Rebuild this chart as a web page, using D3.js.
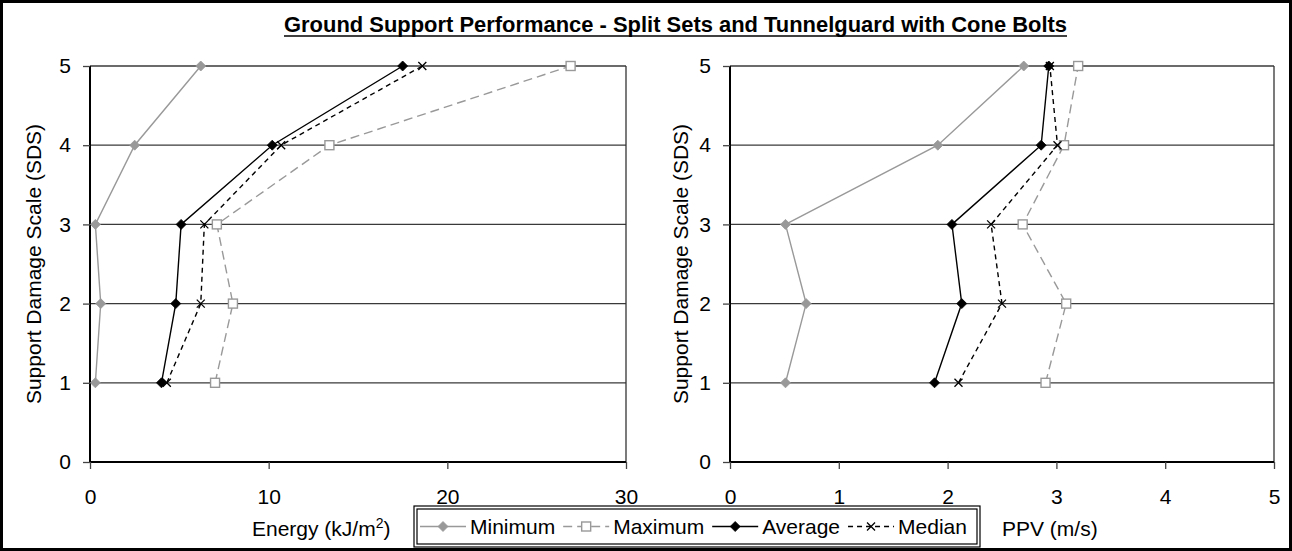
<!DOCTYPE html>
<html>
<head>
<meta charset="utf-8">
<script src="https://cdn.jsdelivr.net/npm/d3@7"></script>
<style>
  html, body { margin: 0; padding: 0; background: #fff; }
  svg { display: block; font-family: "Liberation Sans", Arial, sans-serif; }
</style>
</head>
<body>
<svg id="chart" width="1292" height="551"></svg>
<script>
// Support damage scale levels (y values shared by every series)
const sds = [1, 2, 3, 4, 5];
const sdsTicks = [0, 1, 2, 3, 4, 5];

// Energy (kJ/m2) per SDS level
const energyMin = [0.3, 0.6, 0.3, 2.5, 6.2];
const energyMax = [7.0, 8.0, 7.1, 13.4, 26.9];
const energyAvg = [4.0, 4.8, 5.1, 10.2, 17.5];
const energyMed = [4.3, 6.2, 6.4, 10.7, 18.6];
const energyTicks = [0, 10, 20, 30];

// PPV (m/s) per SDS level
const ppvMin = [0.51, 0.70, 0.51, 1.91, 2.70];
const ppvMax = [2.90, 3.09, 2.69, 3.07, 3.20];
const ppvAvg = [1.88, 2.13, 2.04, 2.86, 2.93];
const ppvMed = [2.10, 2.50, 2.40, 3.01, 2.94];
const ppvTicks = [0, 1, 2, 3, 4, 5];

const seriesNames = ["Minimum", "Maximum", "Average", "Median"];
const titleText = "Ground Support Performance - Split Sets and Tunnelguard with Cone Bolts";

const GREY = "#999999";
const styles = {
  Minimum: { stroke: GREY, dash: null, marker: "diamond", fill: GREY, mstroke: GREY },
  Maximum: { stroke: GREY, dash: "9,5", marker: "square", fill: "#fff", mstroke: GREY },
  Average: { stroke: "#000", dash: null, marker: "diamond", fill: "#000", mstroke: "#000" },
  Median:  { stroke: "#000", dash: "5,4", marker: "cross", fill: "none", mstroke: "#000" }
};

const svg = d3.select("#chart");
const W = 1292, H = 551;
const FS = 21;

// outer frame
svg.append("rect").attr("x", 1.5).attr("y", 1.5).attr("width", W - 3).attr("height", H - 3)
  .attr("fill", "#fff").attr("stroke", "#000").attr("stroke-width", 3);

// title, bold and underlined
const title = svg.append("text").attr("x", 284).attr("y", 32)
  .attr("font-size", 21.5).attr("font-weight", "bold")
  .attr("textLength", 783).attr("lengthAdjust", "spacingAndGlyphs").text(titleText);
const tb = title.node().getBBox();
svg.append("line").attr("x1", tb.x).attr("x2", tb.x + tb.width)
  .attr("y1", 36).attr("y2", 36).attr("stroke", "#000").attr("stroke-width", 1.5);

function drawMarker(g, type, x, y, st) {
  if (type === "diamond") {
    g.append("path").attr("d", `M${x},${y - 5}L${x + 5},${y}L${x},${y + 5}L${x - 5},${y}Z`)
      .attr("fill", st.fill).attr("stroke", st.mstroke).attr("stroke-width", 0.8);
  } else if (type === "square") {
    g.append("rect").attr("x", x - 4.5).attr("y", y - 4.5).attr("width", 9).attr("height", 9)
      .attr("fill", st.fill).attr("stroke", st.mstroke).attr("stroke-width", 1.4);
  } else {
    g.append("path").attr("d", `M${x - 4},${y - 4}L${x + 4},${y + 4}M${x - 4},${y + 4}L${x + 4},${y - 4}`)
      .attr("stroke", st.mstroke).attr("stroke-width", 1.3).attr("fill", "none");
  }
}

function panel(opts) {
  const { left, right, top, bottom, domain, ticks, series, yLabelX, xLabel, xLabelX } = opts;
  const x = d3.scaleLinear().domain(domain).range([left, right]);
  const y = d3.scaleLinear().domain([0, 5]).range([bottom, top]);
  const g = svg.append("g");

  // horizontal gridlines
  g.append("g").selectAll("line").data(sdsTicks.filter(d => d > 0)).join("line")
    .attr("x1", left).attr("x2", right).attr("y1", d => y(d)).attr("y2", d => y(d))
    .attr("stroke", "#3a3a3a").attr("stroke-width", 1.3);
  // plot border right side
  g.append("line").attr("x1", right).attr("x2", right).attr("y1", top).attr("y2", bottom)
    .attr("stroke", "#333").attr("stroke-width", 1.3);

  // y axis
  const ya = g.append("g").attr("transform", `translate(${left},0)`)
    .call(d3.axisLeft(y).tickValues(sdsTicks).tickSize(7).tickPadding(12).tickFormat(d3.format("d")));
  // x axis
  const xa = g.append("g").attr("transform", `translate(0,${bottom})`)
    .call(d3.axisBottom(x).tickValues(ticks).tickSize(7).tickPadding(20).tickFormat(d3.format("d")));
  [ya, xa].forEach(a => {
    a.select(".domain").attr("stroke", "#000").attr("stroke-width", 2);
    a.selectAll(".tick line").attr("stroke", "#444").attr("stroke-width", 1.3);
    a.selectAll(".tick text").attr("font-size", FS).attr("fill", "#000")
      .attr("font-family", "Liberation Sans, Arial, sans-serif");
  });
  ya.select(".domain").attr("d", `M0,${top}V${bottom}`);
  xa.select(".domain").attr("d", `M${left},0H${right}`);

  // y axis title
  g.append("text").attr("transform", `translate(${yLabelX},${(top + bottom) / 2}) rotate(-90)`)
    .attr("text-anchor", "middle").attr("font-size", FS).text("Support Damage Scale (SDS)");

  // x axis title
  g.append("text").attr("x", xLabelX).attr("y", 536)
    .attr("font-size", FS).call(xLabel);

  // series lines and markers
  seriesNames.forEach((name, i) => {
    const st = styles[name];
    const vals = series[i];
    const line = d3.line().x(d => x(d)).y((d, j) => y(sds[j]));
    g.append("path").datum(vals).attr("d", line).attr("fill", "none")
      .attr("stroke", st.stroke).attr("stroke-width", 1.4)
      .attr("stroke-dasharray", st.dash);
    vals.forEach((v, j) => drawMarker(g, st.marker, x(v), y(sds[j]), st));
  });
}

panel({
  left: 90, right: 626, top: 66, bottom: 462,
  domain: [0, 30], ticks: energyTicks,
  series: [energyMin, energyMax, energyAvg, energyMed],
  yLabelX: 41, xLabelX: 252,
  xLabel: t => {
    t.append("tspan").text("Energy (kJ/m");
    t.append("tspan").attr("font-size", 14).attr("dy", -8).text("2");
    t.append("tspan").attr("dy", 8).text(")");
  }
});

panel({
  left: 730, right: 1274, top: 66, bottom: 462,
  domain: [0, 5], ticks: ppvTicks,
  series: [ppvMin, ppvMax, ppvAvg, ppvMed],
  yLabelX: 688, xLabelX: 1002,
  xLabel: t => t.text("PPV (m/s)")
});

// legend with double border
const lg = svg.append("g");
const L = { x: 414, y: 506, w: 566, h: 41 };
lg.append("rect").attr("x", L.x).attr("y", L.y).attr("width", L.w).attr("height", L.h)
  .attr("fill", "#fff").attr("stroke", "#000").attr("stroke-width", 1.2);
lg.append("rect").attr("x", L.x + 3).attr("y", L.y + 3).attr("width", L.w - 6).attr("height", L.h - 6)
  .attr("fill", "none").attr("stroke", "#000").attr("stroke-width", 1.2);

const ly = L.y + L.h / 2;
let cx = L.x + 6;
seriesNames.forEach(name => {
  const st = styles[name];
  lg.append("line").attr("x1", cx).attr("x2", cx + 46).attr("y1", ly).attr("y2", ly)
    .attr("stroke", st.stroke).attr("stroke-width", 1.4).attr("stroke-dasharray", st.dash);
  drawMarker(lg, st.marker, cx + 23, ly, st);
  const t = lg.append("text").attr("x", cx + 50).attr("y", ly + 7).attr("font-size", FS).text(name);
  cx += 50 + t.node().getComputedTextLength() + 8;
});
</script>
</body>
</html>
